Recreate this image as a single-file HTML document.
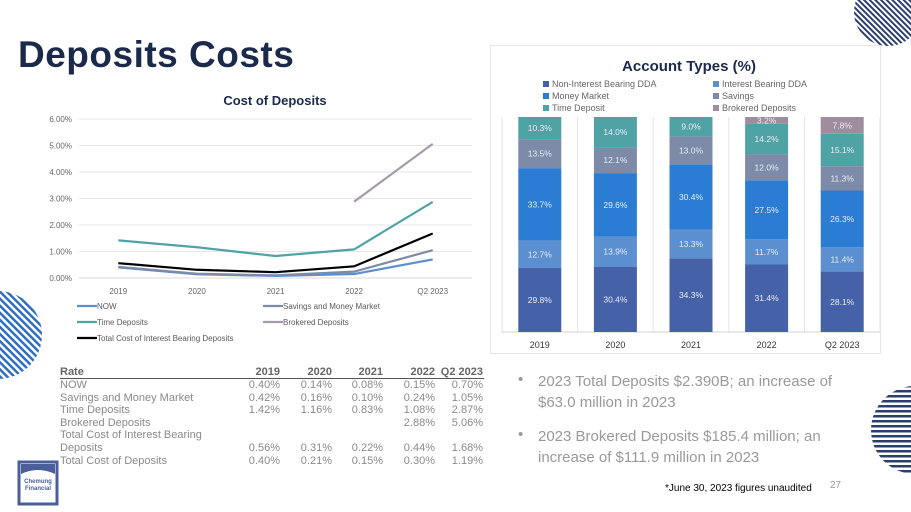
<!DOCTYPE html>
<html><head><meta charset="utf-8"><style>
body{margin:0;width:911px;height:512px;overflow:hidden;background:#fff;font-family:"Liberation Sans",sans-serif;position:relative}
.t{position:absolute;white-space:nowrap}
</style></head><body>
<svg width="911" height="512" style="position:absolute;left:0;top:0">
<defs>
<pattern id="sb" width="5" height="5" patternUnits="userSpaceOnUse" patternTransform="rotate(45)"><rect width="5" height="2.5" fill="#2e6fc0"/></pattern>
<pattern id="sn" width="4" height="4" patternUnits="userSpaceOnUse" patternTransform="rotate(45)"><rect width="4" height="2" fill="#2b3f6e"/></pattern>
<pattern id="sh" width="5" height="5" patternUnits="userSpaceOnUse"><rect width="5" height="2.5" fill="#2b3f6e"/></pattern>
</defs>
<circle cx="888" cy="12" r="34" fill="url(#sn)"/>
<circle cx="-2" cy="335" r="44" fill="url(#sb)"/>
<circle cx="915" cy="430" r="44" fill="url(#sh)"/>
<rect x="490.5" y="45.5" width="390" height="308" fill="#fff" stroke="#e6e6e6"/>
<g id="line-chart"></g>
<g id="bar-chart"></g>
<rect x="19" y="462" width="38" height="42" fill="#fff" stroke="#4a5f9a" stroke-width="3"/>
<path d="M21,464 h34 v10 q-17,-8 -34,0z" fill="#4a5f9a"/>
<text x="38" y="483" font-size="6" font-weight="bold" fill="#4a5f9a" text-anchor="middle" font-family="Liberation Sans">Chemung</text>
<text x="38" y="490" font-size="6" font-weight="bold" fill="#4a5f9a" text-anchor="middle" font-family="Liberation Sans">Financial</text>
</svg>
<div class="t" style="left:18px;top:34px;font-size:37px;font-weight:bold;color:#1b2a4a;letter-spacing:0.5px">Deposits Costs</div>

<div class="t" style="left:518px;top:371px;font-size:15px;color:#999">•</div>
<div class="t" style="left:538px;top:371px;font-size:15px;color:#999;line-height:21px">2023 Total Deposits $2.390B; an increase of<br>$63.0 million in 2023</div>
<div class="t" style="left:518px;top:426px;font-size:15px;color:#999">•</div>
<div class="t" style="left:538px;top:426px;font-size:15px;color:#999;line-height:21px">2023 Brokered Deposits $185.4 million; an<br>increase of $111.9 million in 2023</div>
<div class="t" style="left:665px;top:483px;font-size:10px;color:#000">*June 30, 2023 figures unaudited</div>
<div class="t" style="left:830px;top:480px;font-size:10px;color:#999">27</div>

<div id="table"></div>

<script>
const NS="http://www.w3.org/2000/svg";
function mk(parent,tag,attrs,txt){const e=document.createElementNS(NS,tag);for(const k in attrs)e.setAttribute(k,attrs[k]);if(txt!==undefined)e.textContent=txt;parent.appendChild(e);return e;}

// ---- Line chart data
const lineCats=["2019","2020","2021","2022","Q2 2023"];
const nowRates=[0.40,0.14,0.08,0.15,0.70];
const savRates=[0.42,0.16,0.10,0.24,1.05];
const timeRates=[1.42,1.16,0.83,1.08,2.87];
const brokRates=[null,null,null,2.88,5.06];
const totalRates=[0.56,0.31,0.22,0.44,1.68];
const yTicks=[0,1,2,3,4,5,6];

const lc=document.getElementById('line-chart');
const X0=79,X1=472,Y0=278,Y6=119;
const lx=i=>X0+(X1-X0)*(i+0.5)/lineCats.length;
const ly=v=>Y0-(Y0-Y6)*v/6;
mk(lc,'text',{x:275,y:105,'font-size':13,'font-weight':'bold',fill:'#1b2a4a','text-anchor':'middle','font-family':'Liberation Sans'},'Cost of Deposits');
yTicks.forEach(t=>{
  const g=mk(lc,'line',{x1:X0,x2:X1,y1:ly(t),y2:ly(t),stroke:t===0?'#d9d9d9':'#e6e6e6'});
  
  
  const l=mk(lc,'text',{x:72,y:ly(t)+3,'font-size':8,fill:'#666','text-anchor':'end','font-family':'Liberation Sans'},t.toFixed(2)+'%');
  
  
});
lineCats.forEach((c,i)=>{
  const l=mk(lc,'text',{x:lx(i),y:294,'font-size':8,fill:'#666','text-anchor':'middle','font-family':'Liberation Sans'},c);
  
  
});
const series=[[nowRates,'#5b8fcf','now-line'],[savRates,'#7d8aa8','savings-line'],[timeRates,'#4fa3a5','time-deposits-line'],[brokRates,'#a89aac','brokered-line'],[totalRates,'#000','total-interest-bearing-line']];
series.forEach(([d,col,name])=>{
  const pts=[];d.forEach((v,i)=>{if(v!==null)pts.push(lx(i)+','+ly(v));});
  const p=mk(lc,'polyline',{points:pts.join(' '),fill:'none',stroke:col,'stroke-width':2.2});
  
  
});
const legs=[['NOW','#5b8fcf',77,309],['Savings and Money Market','#7d8aa8',263,309],['Time Deposits','#4fa3a5',77,325],['Brokered Deposits','#a89aac',263,325],['Total Cost of Interest Bearing Deposits','#000',77,341]];
legs.forEach(([n,c,x,y])=>{
  const g=mk(lc,'g',{});
  
  
  mk(g,'line',{x1:x,x2:x+20,y1:y-3,y2:y-3,stroke:c,'stroke-width':2.2});
  mk(g,'text',{x:x+20,y:y,'font-size':8,fill:'#595959','font-family':'Liberation Sans'},n);
});

// ---- Bar chart data
const barCats=["2019","2020","2021","2022","Q2 2023"];
const segNames=["Non-Interest Bearing DDA","Interest Bearing DDA","Money Market","Savings","Time Deposit","Brokered Deposits"];
const nonInt=[29.8,30.4,34.3,31.4,28.1];
const intBear=[12.7,13.9,13.3,11.7,11.4];
const moneyMkt=[33.7,29.6,30.4,27.5,26.3];
const savings=[13.5,12.1,13.0,12.0,11.3];
const timeDep=[10.3,14.0,9.0,14.2,15.1];
const brokered=[0,0,0,3.2,7.8];
const segCols=['#4562a8','#5b8fcf','#2b7cd3','#7d8aa8','#4fa3a5','#a08c9c'];
const bc=document.getElementById('bar-chart');
const BX0=502,BX1=880,BB=332,BT=117;
const bw=(BX1-BX0)/barCats.length;
const by=v=>BB-(BB-BT)*v/100;
mk(bc,'text',{x:689,y:71,'font-size':15,'font-weight':'bold',fill:'#1b2a4a','text-anchor':'middle','font-family':'Liberation Sans'},'Account Types (%)');
const lpos=[[543,87],[713,87],[543,99],[713,99],[543,111],[713,111]];
segNames.forEach((n,i)=>{
  const g=mk(bc,'g',{});
  
  
  mk(g,'rect',{x:lpos[i][0],y:lpos[i][1]-6,width:6,height:6,fill:segCols[i]});
  mk(g,'text',{x:lpos[i][0]+9,y:lpos[i][1],'font-size':9,fill:'#666','font-family':'Liberation Sans'},n);
});
for(let i=1;i<barCats.length;i++){mk(bc,'line',{x1:BX0+bw*i,x2:BX0+bw*i,y1:BT,y2:BB,stroke:'#e3e3e3'});}
mk(bc,'line',{x1:BX0,x2:BX0,y1:BT,y2:BB,stroke:'#e3e3e3'});
mk(bc,'line',{x1:BX1,x2:BX1,y1:BT,y2:BB,stroke:'#e3e3e3'});
mk(bc,'line',{x1:BX0,x2:BX1,y1:BB,y2:BB,stroke:'#d0d0d0'});
const segData=[nonInt,intBear,moneyMkt,savings,timeDep,brokered];
barCats.forEach((c,i)=>{
  const cx=BX0+bw*(i+0.5);let cum=0;
  segData.forEach((arr,s)=>{
    const v=arr[i];if(!v)return;
    const r=mk(bc,'rect',{x:cx-21.5,y:by(cum+v),width:43,height:by(cum)-by(cum+v),fill:segCols[s]});
    
    
    mk(bc,'text',{x:cx,y:(by(cum)+by(cum+v))/2+3,'font-size':8.5,fill:'#e8ecf5','text-anchor':'middle','font-family':'Liberation Sans'},v.toFixed(1)+'%');
    cum+=v;
  });
  const l=mk(bc,'text',{x:cx,y:348,'font-size':9,fill:'#333','text-anchor':'middle','font-family':'Liberation Sans'},c);
  
  
});

// ---- Table
const tblCols=["2019","2020","2021","2022","Q2 2023"];
const tblRows=[["NOW",["0.40%","0.14%","0.08%","0.15%","0.70%"]],["Savings and Money Market",["0.42%","0.16%","0.10%","0.24%","1.05%"]],["Time Deposits",["1.42%","1.16%","0.83%","1.08%","2.87%"]],["Brokered Deposits",["","","","2.88%","5.06%"]],["Total Cost of Interest Bearing",["","","","",""]],["Deposits",["0.56%","0.31%","0.22%","0.44%","1.68%"]],["Total Cost of Deposits",["0.40%","0.21%","0.15%","0.30%","1.19%"]]];
const colR=[280,332,383,435,483];
const tb=document.getElementById('table');
let h='<div class="t" style="left:60px;top:366px;font-size:11px;font-weight:bold;color:#666">Rate</div>';
tblCols.forEach((c,i)=>{h+=`<div class="t" style="right:${911-colR[i]}px;top:366px;font-size:11px;font-weight:bold;color:#666">${c}</div>`;});
h+='<div style="position:absolute;left:60px;top:378px;width:424px;height:1px;background:#555"></div>';
tblRows.forEach((r,j)=>{const y=379+j*12.6;
  h+=`<div class="t" style="left:60px;top:${y}px;font-size:11px;color:#8a8a8a">${r[0]}</div>`;
  r[1].forEach((v,i)=>{if(v)h+=`<div class="t" style="right:${911-colR[i]}px;top:${y}px;font-size:11px;color:#8a8a8a">${v}</div>`;});
});
tb.innerHTML=h;
</script>
</body></html>
